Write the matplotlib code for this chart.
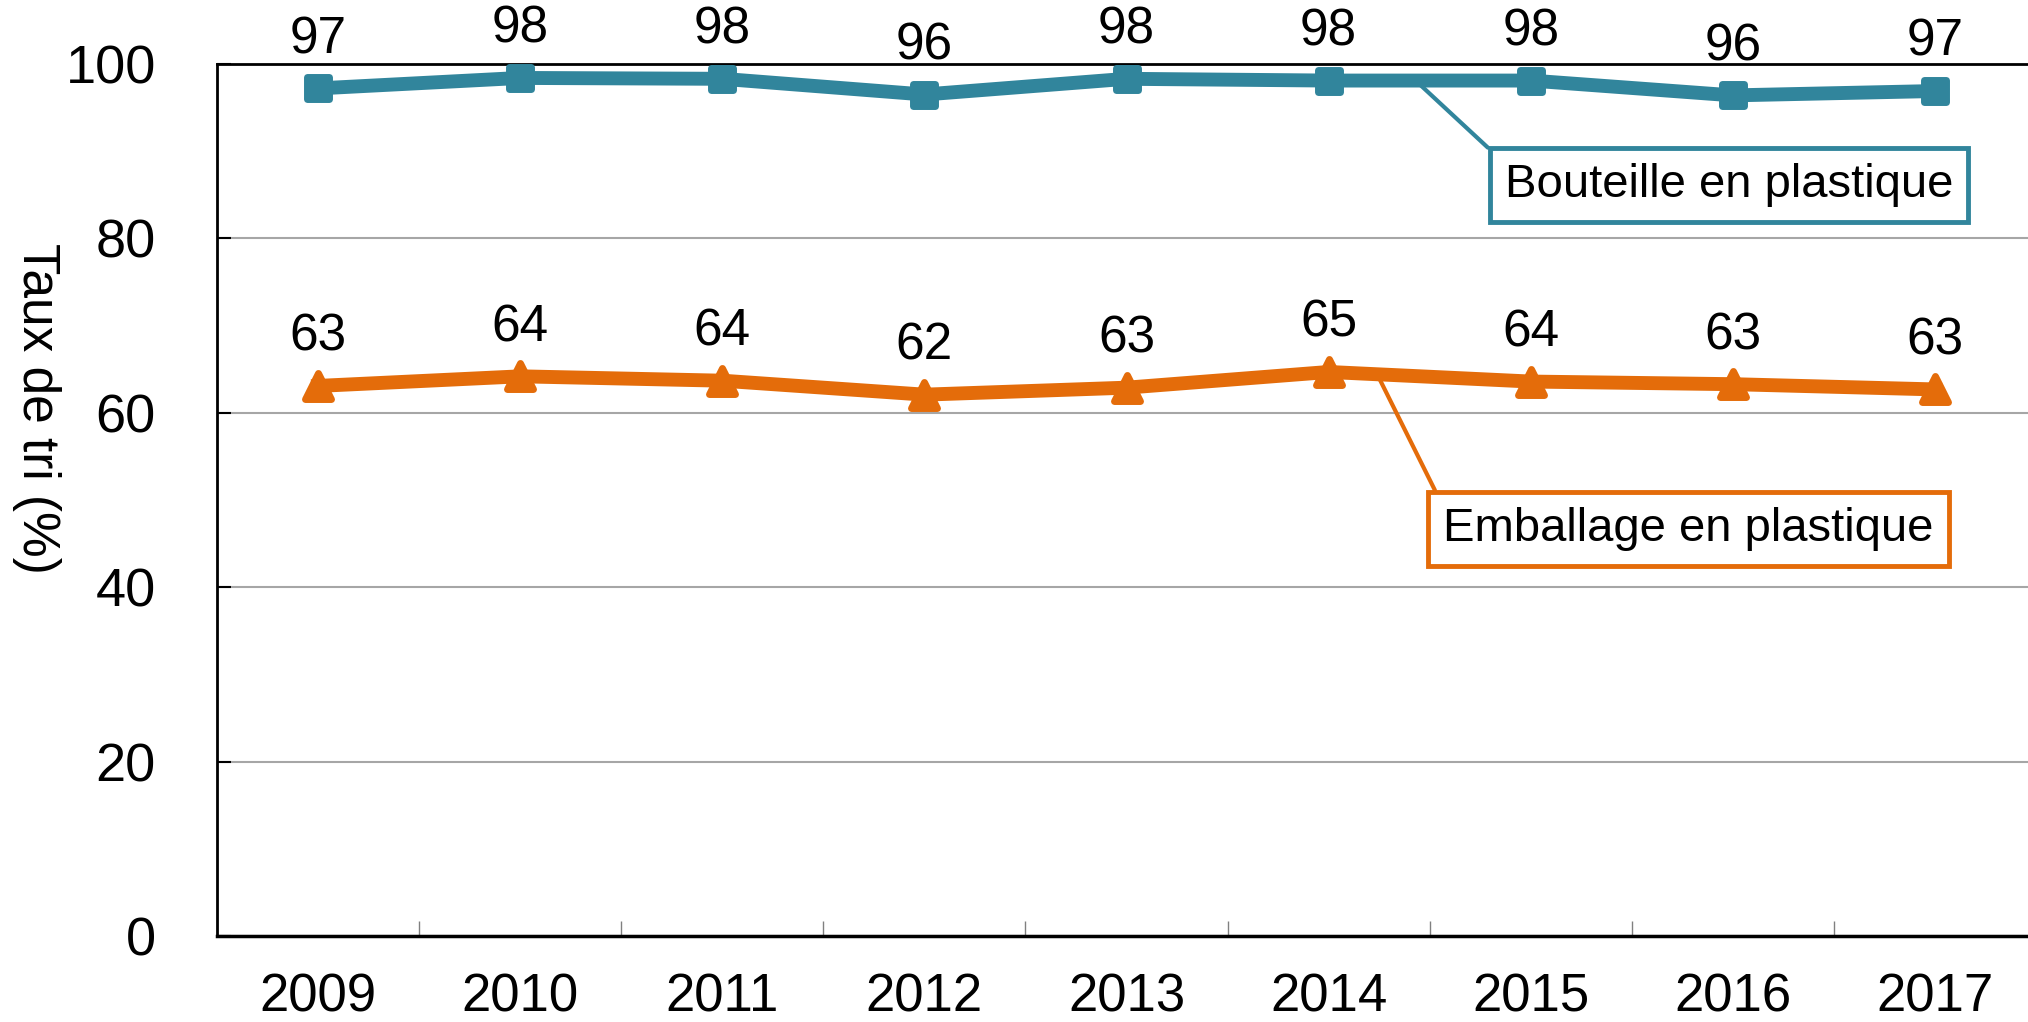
import matplotlib
matplotlib.use('Agg')
import matplotlib.pyplot as plt
from matplotlib.markers import MarkerStyle
import numpy as np

plt.rcParams['font.family'] = ['Liberation Sans', 'DejaVu Sans']

years = ['2009', '2010', '2011', '2012', '2013', '2014', '2015', '2016', '2017']
bouteille = [97.2, 98.4, 98.3, 96.5, 98.3, 98.1, 98.1, 96.4, 96.9]
emballage = [63.1, 64.2, 63.7, 62.1, 62.9, 64.7, 63.6, 63.3, 62.7]
yticks = [0, 20, 40, 60, 80, 100]

teal = '#31859C'
orange = '#E46C0A'

fig = plt.figure(figsize=(20.28, 10.22), dpi=100)
ax = fig.add_axes([0.107, 0.0837, 0.897, 0.8537])

x = np.arange(len(years))

ax.plot(x, bouteille, color=teal, linewidth=10, solid_joinstyle='round',
        marker=MarkerStyle('s', joinstyle='round'), markersize=16,
        markeredgewidth=5, zorder=3)
ax.plot(x, emballage, color=orange, linewidth=10, solid_joinstyle='round',
        marker=MarkerStyle('^', joinstyle='round'), markersize=19,
        markeredgewidth=5, zorder=3)

# valeurs au-dessus des points
for serie in (bouteille, emballage):
    for xi, v in zip(x, serie):
        ax.annotate(f'{v:.0f}', (xi, v), xytext=(0, 35), textcoords='offset points',
                    ha='center', va='center', fontsize=37, annotation_clip=False)

# etiquettes avec trait de rappel, ancrées sur la ligne entre 2014 et 2015
t1 = 0.43
yb = bouteille[5] + t1 * (bouteille[6] - bouteille[5])
ax.annotate('Bouteille en plastique', (5 + t1, yb), xytext=(6.98, 86.1),
            textcoords='data', ha='center', va='center', fontsize=34,
            bbox=dict(boxstyle='square,pad=0.32', fc='white', ec=teal, lw=3.5),
            arrowprops=dict(arrowstyle='-', color=teal, lw=3, relpos=(0, 1),
                            shrinkA=0, shrinkB=0), zorder=4)
t2 = 0.24
ye = emballage[5] + t2 * (emballage[6] - emballage[5])
ax.annotate('Emballage en plastique', (5 + t2, ye), xytext=(6.78, 46.7),
            textcoords='data', ha='center', va='center', fontsize=34,
            bbox=dict(boxstyle='square,pad=0.32', fc='white', ec=orange, lw=3.5),
            arrowprops=dict(arrowstyle='-', color=orange, lw=3, relpos=(0, 1),
                            shrinkA=0, shrinkB=0), zorder=4)

ax.set_xlim(-0.5, len(years) - 0.5)
ax.set_ylim(0, 100)
ax.set_yticks(yticks)
ax.set_yticklabels([str(t) for t in yticks], fontsize=39)
ax.set_xticks(x)
ax.set_xticklabels(years, fontsize=38)
ax.set_xticks(np.arange(0.5, len(years) - 1, 1), minor=True)
ax.tick_params(axis='x', which='major', length=0, pad=26)
ax.tick_params(axis='x', which='minor', direction='in', length=11, width=1, color='#808080')
ax.tick_params(axis='y', which='major', direction='in', length=10, width=1.5, pad=44)

ax.grid(axis='y', color='#A6A6A6', linewidth=1.5)
ax.set_axisbelow(True)

for s in ['left', 'top']:
    ax.spines[s].set_linewidth(2)
    ax.spines[s].set_color('black')
ax.spines['bottom'].set_linewidth(2.5)
ax.spines['right'].set_visible(False)

ax.set_ylabel('Taux de tri (%)', fontsize=37, rotation=270, ha='center', va='center')
ax.yaxis.set_label_coords(-0.099, 0.605)

fig.savefig('out.png', dpi=100)
